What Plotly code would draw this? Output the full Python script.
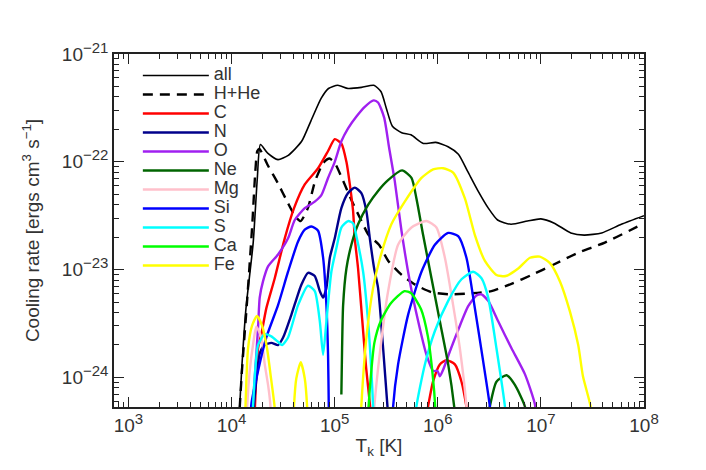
import plotly.graph_objects as go

# log10 temperature [K] and log10 cooling rate [ergs cm^3 s^-1].
# None breaks a curve where it drops out of the plotted range.
ALL_LOGT = [4.06, 4.10, 4.14, 4.21, 4.25, 4.28, 4.35, 4.45, 4.55, 4.68, 4.77, 4.87, 4.94,
            5.03, 5.13, 5.26, 5.38, 5.45, 5.50, 5.56, 5.65, 5.74, 5.86, 5.98, 6.10, 6.20,
            6.29, 6.39, 6.49, 6.58, 6.71, 6.87, 7.00, 7.13, 7.29, 7.42, 7.59, 7.78, 8.00]
ALL_LOGL = [-24.6, -23.9, -23.36, -22.75, -22.15, -21.84, -21.92, -21.98, -21.94, -21.81,
            -21.62, -21.41, -21.32, -21.29, -21.32, -21.31, -21.29, -21.35, -21.50, -21.67,
            -21.73, -21.75, -21.83, -21.82, -21.86, -21.93, -22.09, -22.27, -22.43, -22.54,
            -22.58, -22.55, -22.53, -22.57, -22.66, -22.68, -22.66, -22.58, -22.50]

HHE_LOGT = [4.06, 4.10, 4.15, 4.20, 4.23, 4.25, 4.27, 4.35, 4.45, 4.54, 4.62, 4.67, 4.74,
            4.81, 4.89, 4.95, 5.00, 5.07, 5.17, 5.26, 5.33, 5.43, 5.52, 5.65, 5.78, 5.94,
            6.13, 6.33, 6.52, 6.72, 6.91, 7.11, 7.37, 7.62, 8.00]
HHE_LOGL = [-24.6, -23.95, -23.3, -22.6, -22.1, -21.90, -21.88, -22.03, -22.20, -22.37,
            -22.51, -22.55, -22.43, -22.18, -22.01, -21.97, -22.01, -22.15, -22.37, -22.55,
            -22.68, -22.77, -22.92, -23.05, -23.14, -23.21, -23.23, -23.22, -23.20, -23.13,
            -23.05, -22.96, -22.84, -22.75, -22.57]

C_LOGT = [4.22, 4.257, 4.289, 4.337, 4.419, 4.516, 4.606, 4.710, 4.839, 4.936, 5.001, 5.065,
          5.114, 5.147, 5.179, 5.195, 5.227, 5.266, 5.305, 5.344, 5.36, None,
          5.887, 5.906, 5.954, 6.020, 6.084, 6.166, 6.230, 6.278, 6.295]
C_LOGL = [-24.45, -23.73, -23.60, -23.36, -23.08, -22.71, -22.43, -22.21, -22.06, -21.90,
          -21.79, -21.83, -22.00, -22.21, -22.46, -22.71, -22.99, -23.45, -23.91, -24.27,
          -24.45, None,
          -24.38, -24.27, -24.04, -23.88, -23.84, -23.88, -24.04, -24.27, -24.38]

N_LOGT = [4.199, 4.237, 4.276, 4.322, 4.386, 4.451, 4.500, 4.580, 4.677, 4.742, 4.807, 4.856,
          4.888, 4.920, 4.953, 5.001, 5.065, 5.130, 5.195, 5.259, 5.308, 5.341, 5.383, 5.421,
          5.470, 5.512, 5.524]
N_LOGL = [-24.47, -24.05, -23.77, -23.70, -23.68, -23.70, -23.63, -23.42, -23.14, -23.03,
          -23.06, -23.20, -23.26, -23.17, -22.89, -22.71, -22.43, -22.29, -22.24, -22.29,
          -22.46, -22.71, -22.99, -23.17, -23.73, -24.27, -24.42]

O_LOGT = [4.189, 4.218, 4.257, 4.273, 4.305, 4.354, 4.451, 4.548, 4.613, 4.710, 4.807, 4.871,
          4.936, 5.001, 5.065, 5.130, 5.211, 5.292, 5.378, 5.421, 5.480, 5.528, 5.583, 5.648,
          5.729, 5.810, 5.890, 5.955, 5.997, 6.020, 6.052, 6.117, 6.198, 6.295, 6.375, 6.424,
          6.489, 6.586, 6.715, 6.845, 6.942, 6.955]
O_LOGL = [-24.47, -24.10, -23.54, -23.26, -23.11, -22.97, -22.86, -22.71, -22.54, -22.43,
          -22.37, -22.31, -22.15, -22.00, -21.81, -21.69, -21.58, -21.49, -21.43, -21.45,
          -21.59, -21.87, -22.18, -22.64, -23.11, -23.48, -23.79, -23.94, -23.94, -23.99,
          -23.93, -23.76, -23.56, -23.34, -23.24, -23.23, -23.29, -23.48, -23.73, -23.97,
          -24.25, -24.42]

NE_LOGT = [5.065, 5.072, 5.082, 5.114, 5.162, 5.227, 5.324, 5.421, 5.518, 5.654, 5.745, 5.793,
           5.858, 5.939, 6.020, 6.101, 6.159, 6.173, None,
           6.479, 6.505, 6.569, 6.667, 6.748, 6.845, 6.858]
NE_LOGL = [-24.16, -23.73, -23.33, -22.99, -22.77, -22.58, -22.40, -22.27, -22.17, -22.08,
           -22.15, -22.34, -22.68, -23.08, -23.48, -23.88, -24.27, -24.42, None,
           -24.42, -24.27, -24.04, -23.98, -24.07, -24.27, -24.42]

MG_LOGT = [4.145, 4.153, 4.176, 4.208, 4.240, 4.289, 4.322, 4.354, 4.376, 4.383, None,
           5.378, 5.385, 5.450, 5.515, 5.615, 5.745, 5.890, 5.987, 6.069, 6.149, 6.214,
           6.278, 6.285]
MG_LOGL = [-24.42, -24.25, -23.94, -23.70, -23.53, -23.63, -23.88, -24.07, -24.25, -24.42, None,
           -24.42, -24.27, -23.68, -23.22, -22.77, -22.61, -22.55, -22.61, -22.89, -23.33,
           -23.73, -24.27, -24.42]

SI_LOGT = [4.184, 4.192, 4.257, 4.337, 4.451, 4.548, 4.645, 4.710, 4.774, 4.839, 4.888, 4.920,
           4.936, 4.943, 4.946, None,
           5.562, 5.567, 5.615, 5.712, 5.842, 5.972, 6.101, 6.198, 6.278, 6.360, 6.440, 6.505,
           6.513]
SI_LOGL = [-24.42, -24.25, -23.94, -23.63, -23.33, -23.02, -22.74, -22.63, -22.60, -22.64,
           -22.89, -23.33, -23.79, -24.27, -24.42, None,
           -24.42, -24.27, -23.88, -23.42, -23.02, -22.77, -22.66, -22.69, -22.89, -23.36,
           -23.85, -24.27, -24.42]

S_LOGT = [4.199, 4.208, 4.225, 4.257, 4.322, 4.386, 4.451, 4.490, 4.548, 4.645, 4.742, 4.807,
          4.856, 4.888, 4.920, 4.968, 5.017, 5.065, 5.130, 5.179, 5.211, 5.276, 5.324, 5.356,
          5.373, 5.378, None,
          5.785, 5.793, 5.875, 5.972, 6.101, 6.230, 6.343, 6.424, 6.489, 6.569, 6.651, 6.659]
S_LOGL = [-24.42, -24.27, -23.99, -23.70, -23.60, -23.62, -23.67, -23.70, -23.63, -23.33,
          -23.15, -23.20, -23.48, -23.79, -23.48, -23.02, -22.80, -22.61, -22.55, -22.57,
          -22.69, -23.02, -23.48, -23.94, -24.27, -24.42, None,
          -24.42, -24.27, -23.88, -23.57, -23.29, -23.09, -23.02, -23.08, -23.26, -23.73,
          -24.27, -24.42]

CA_LOGT = [5.315, 5.329, 5.343, 5.385, 5.450, 5.547, 5.677, 5.742, 5.839, 5.904, 5.952, 5.975,
           5.979]
CA_LOGL = [-24.42, -24.27, -24.08, -23.68, -23.47, -23.31, -23.20, -23.22, -23.37, -23.62,
           -23.99, -24.27, -24.42]

FE_LOGT = [4.131, 4.135, 4.160, 4.199, 4.247, 4.296, 4.344, 4.383, 4.417, 4.422, None,
           4.601, 4.606, 4.628, 4.671, 4.710, 4.732, 4.737, None,
           5.252, 5.259, 5.308, 5.373, 5.441, 5.550, 5.680, 5.842, 5.955, 6.052, 6.149, 6.263,
           6.360, 6.457, 6.569, 6.659, 6.780, 6.894, 6.989, 7.088, 7.185, 7.282, 7.362, 7.408,
           7.482, 7.488]
FE_LOGL = [-24.42, -24.27, -23.73, -23.52, -23.43, -23.52, -23.73, -24.01, -24.27, -24.42, None,
           -24.42, -24.26, -24.01, -23.86, -24.01, -24.26, -24.42, None,
           -24.42, -24.26, -23.63, -23.17, -22.89, -22.58, -22.37, -22.15, -22.07, -22.06,
           -22.10, -22.34, -22.68, -22.92, -23.05, -23.06, -22.99, -22.89, -22.88, -22.94,
           -23.11, -23.39, -23.70, -23.99, -24.27, -24.42]

X_TICKS = [3, 4, 5, 6, 7, 8]
Y_TICKS = [-24, -23, -22, -21]

SERIES = [
    ("all", ALL_LOGT, ALL_LOGL, "#000000", 1.6, "solid"),
    ("H+He", HHE_LOGT, HHE_LOGL, "#000000", 2.4, "10px,7px"),
    ("C", C_LOGT, C_LOGL, "#ff0000", 2.4, "solid"),
    ("N", N_LOGT, N_LOGL, "#00008b", 2.4, "solid"),
    ("O", O_LOGT, O_LOGL, "#a020f0", 2.4, "solid"),
    ("Ne", NE_LOGT, NE_LOGL, "#006400", 2.4, "solid"),
    ("Mg", MG_LOGT, MG_LOGL, "#ffc0cb", 2.4, "solid"),
    ("Si", SI_LOGT, SI_LOGL, "#0000ff", 2.4, "solid"),
    ("S", S_LOGT, S_LOGL, "#00ffff", 2.4, "solid"),
    ("Ca", CA_LOGT, CA_LOGL, "#00ff00", 2.4, "solid"),
    ("Fe", FE_LOGT, FE_LOGL, "#ffff00", 2.4, "solid"),
]


def unlog(values):
    return [None if v is None else 10 ** v for v in values]


def power_label(exponent):
    # IDL-style 10^n with a fairly large exponent
    sign = "\u2212" if exponent < 0 else ""
    return f'10<sup><span style="font-size:15px">{sign}{abs(exponent)}</span></sup>'


FONT = "Liberation Sans, Arial, sans-serif"
TEXT = "#333333"

fig = go.Figure()
for name, logt, logl, color, width, dash in SERIES:
    fig.add_trace(
        go.Scatter(
            x=unlog(logt),
            y=unlog(logl),
            mode="lines",
            # bigger text than legend.font so the rows stay tight like the original
            name=f'<span style="font-size:18px">{name}</span>',
            line=dict(color=color, width=width, dash=dash, shape="spline", smoothing=0.6),
            connectgaps=False,
        )
    )

minor_x = [m * 10 ** d for d in range(2, 8) for m in range(2, 10)]
minor_y = [m * 10.0 ** d for d in range(-25, -21) for m in range(2, 10)]

axis_common = dict(
    type="log",
    showline=True,
    linecolor="#222222",
    linewidth=1.5,
    mirror="ticks",
    ticks="inside",
    ticklen=10,
    tickwidth=1.2,
    tickcolor="#222222",
    showgrid=False,
    zeroline=False,
    tickfont=dict(family=FONT, size=19, color=TEXT),
)

fig.update_xaxes(
    **axis_common,
    range=[2.86, 8.0],
    tickvals=[10 ** t for t in X_TICKS],
    ticktext=[power_label(t) for t in X_TICKS],
    minor=dict(tickvals=minor_x, ticks="inside", ticklen=5, tickwidth=1.2, tickcolor="#222222"),
    title=dict(text="T<sub>k</sub> [K]", font=dict(family=FONT, size=19, color=TEXT), standoff=4),
)
fig.update_yaxes(
    **axis_common,
    range=[-24.275, -21.0],
    tickvals=[10.0 ** t for t in Y_TICKS],
    ticktext=[power_label(t) for t in Y_TICKS],
    minor=dict(tickvals=minor_y, ticks="inside", ticklen=5, tickwidth=1.2, tickcolor="#222222"),
    title=dict(
        text="Cooling rate [ergs cm<sup>3</sup> s<sup>\u22121</sup>]",
        font=dict(family=FONT, size=19, color=TEXT),
        standoff=17,
    ),
)

fig.update_layout(
    width=706,
    height=470,
    margin=dict(l=106, r=70, t=46, b=71),
    paper_bgcolor="white",
    plot_bgcolor="white",
    showlegend=True,
    legend=dict(
        x=0.045,
        y=0.98,
        xanchor="left",
        yanchor="top",
        bgcolor="rgba(0,0,0,0)",
        font=dict(family=FONT, size=12, color=TEXT),
        itemwidth=66,
        tracegroupgap=0,
    ),
)

fig.write_html("out.html")
